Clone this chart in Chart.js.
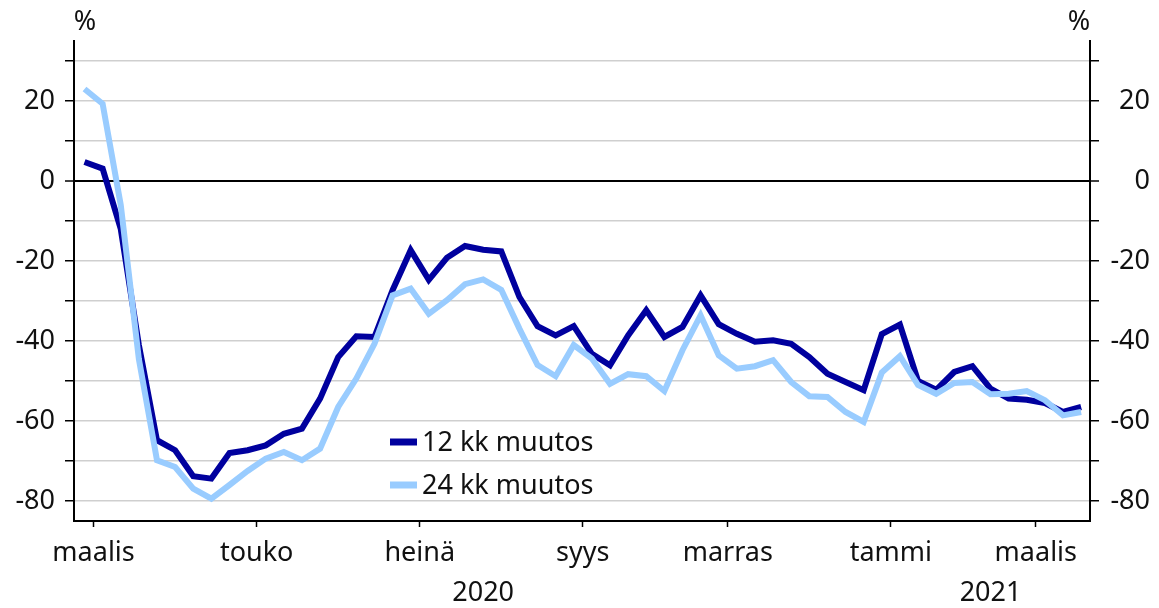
<!DOCTYPE html>
<html>
<head>
<meta charset="utf-8">
<script src="https://cdn.jsdelivr.net/npm/chart.js@4/dist/chart.umd.min.js"></script>
<style>
  html, body { margin: 0; padding: 0; background: #fff; }
  #wrap { width: 1159px; height: 608px; position: relative; }
</style>
</head>
<body>
<div id="wrap"><canvas id="chart"></canvas></div>
<script>
// --- data (weekly, index 0 = late Feb 2020) ---
const change12 = [
  4.75, 3.1, -12, -41, -64.8, -67.3, -73.8, -74.4, -68, -67.3,
  -66.1, -63.2, -61.9, -54.4, -44, -38.8, -39, -27.3, -17.3, -24.7,
  -19.2, -16.25, -17.2, -17.6, -29, -36.3, -38.6, -36.3, -43.2, -46.1,
  -38.6, -32.3, -39, -36.5, -28.6, -35.8, -38.2, -40.2, -39.8, -40.7,
  -44, -48.2, -50.25, -52.3, -38.3, -35.9, -50, -52.2, -47.75, -46.3,
  -51.9, -54.4, -54.7, -55.5, -57.75, -56.5
];
const change24 = [
  23, 19.3, -6, -44.5, -69.8, -71.5, -76.9, -79.4, -76, -72.5,
  -69.4, -67.75, -69.8, -66.9, -56.5, -49.4, -40.7, -28.6, -26.9, -33.2,
  -29.8, -25.8, -24.6, -27.2, -36.9, -46, -48.8, -41, -44.4, -50.7,
  -48.3, -48.8, -52.5, -42.3, -33.6, -43.6, -46.9, -46.3, -44.8, -50.25,
  -53.8, -54, -57.75, -60.25, -47.9, -43.8, -51, -53.2, -50.5, -50.25,
  -53.3, -53.2, -52.5, -54.8, -58.6, -57.75
];
const seriesLabels = ["12 kk muutos", "24 kk muutos"];

// month boundaries (in week index units) and their labels
const monthTicks = [0.5, 9.5, 18.5, 27.5, 35.5, 44.5, 52.5];
const monthLabels = ["maalis", "touko", "heinä", "syys", "marras", "tammi", "maalis"];
const yearTicks = [22, 50];
const yearLabels = ["2020", "2021"];
const yTicks = [-80, -70, -60, -50, -40, -30, -20, -10, 0, 10, 20, 30];

const FONT = "'Noto Sans', 'Open Sans', sans-serif";
const FSIZE = 27;
const TEXT = "#111";
const DARK = "#00009e";
const LIGHT = "#99ccff";

const toPoints = arr => arr.map((v, i) => ({ x: i, y: v }));

// --- "%" unit labels + legend inside the plot ---
const extras = {
  id: "extras",
  afterDraw(chart) {
    const c = chart.ctx;
    const area = chart.chartArea;
    c.save();
    c.font = `${FSIZE}px ${FONT}`;
    c.fillStyle = TEXT;
    c.textBaseline = "middle";
    c.textAlign = "center";
    c.fillText("%", area.left + 11, 22);
    c.fillText("%", area.right - 11, 22);

    // legend
    const rows = [
      { ds: chart.data.datasets[0], y: 442 },
      { ds: chart.data.datasets[1], y: 485 },
    ];
    rows.forEach(r => {
      c.strokeStyle = r.ds.borderColor;
      c.lineWidth = 7;
      c.beginPath();
      c.moveTo(390, r.y);
      c.lineTo(417, r.y);
      c.stroke();
      c.textAlign = "left";
      c.fillStyle = TEXT;
      c.fillText(r.ds.label, 422, r.y + 1);
    });
    c.restore();
  }
};

const yAxis = (position, onArea) => ({
  type: "linear",
  position,
  min: -85,
  max: 35,
  afterBuildTicks: s => { s.ticks = yTicks.map(v => ({ value: v })); },
  afterFit: s => { s.width = position === "left" ? 74 : 60; },
  border: { display: true, color: "#000", width: 2 },
  grid: {
    drawOnChartArea: onArea,
    color: ctx => (ctx.tick && ctx.tick.value === 0 ? "#000" : "#cfcfcf"),
    lineWidth: ctx => (ctx.tick && ctx.tick.value === 0 ? 2 : 1.5),
    tickColor: "#000",
    tickWidth: 1.5,
    tickLength: 9,
  },
  ticks: {
    padding: 10,
    color: TEXT,
    font: { family: FONT, size: FSIZE },
    crossAlign: position === "left" ? "near" : "far",
    callback: v => (v % 20 === 0 ? String(v) : ""),
  },
});

new Chart(document.getElementById("chart"), {
  type: "line",
  data: {
    datasets: [
      {
        label: seriesLabels[0],
        data: toPoints(change12),
        borderColor: DARK,
        borderWidth: 6,
        pointRadius: 0,
        borderJoinStyle: "miter",
        tension: 0,
        order: 2,
        xAxisID: "x",
        yAxisID: "y",
      },
      {
        label: seriesLabels[1],
        data: toPoints(change24),
        borderColor: LIGHT,
        borderWidth: 6,
        pointRadius: 0,
        borderJoinStyle: "miter",
        tension: 0,
        order: 1,
        xAxisID: "x",
        yAxisID: "y",
      },
    ],
  },
  options: {
    responsive: true,
    maintainAspectRatio: false,
    animation: false,
    layout: { padding: { top: 41, right: 9, bottom: 0, left: 0 } },
    plugins: { legend: { display: false }, tooltip: { enabled: false } },
    scales: {
      x: {
        type: "linear",
        position: "bottom",
        weight: 0,
        min: -0.58,
        max: 55.49,
        afterBuildTicks: s => { s.ticks = monthTicks.map(v => ({ value: v })); },
        afterFit: s => { s.height = 48; },
        border: { display: true, color: "#000", width: 2 },
        grid: { drawOnChartArea: false, tickColor: "#000", tickLength: 6, tickWidth: 1.5 },
        ticks: {
          padding: 10,
          autoSkip: false,
          maxRotation: 0,
          color: TEXT,
          font: { family: FONT, size: FSIZE },
          callback: (v, i) => monthLabels[i],
        },
      },
      years: {
        type: "linear",
        position: "bottom",
        weight: 1,
        min: -0.58,
        max: 55.49,
        afterBuildTicks: s => { s.ticks = yearTicks.map(v => ({ value: v })); },
        afterFit: s => { s.height = 39; },
        border: { display: false },
        grid: { display: false },
        ticks: {
          padding: 0,
          autoSkip: false,
          maxRotation: 0,
          color: TEXT,
          font: { family: FONT, size: FSIZE },
          callback: (v, i) => yearLabels[i],
        },
      },
      y: yAxis("left", true),
      y2: yAxis("right", false),
    },
  },
  plugins: [extras],
});
</script>
</body>
</html>
